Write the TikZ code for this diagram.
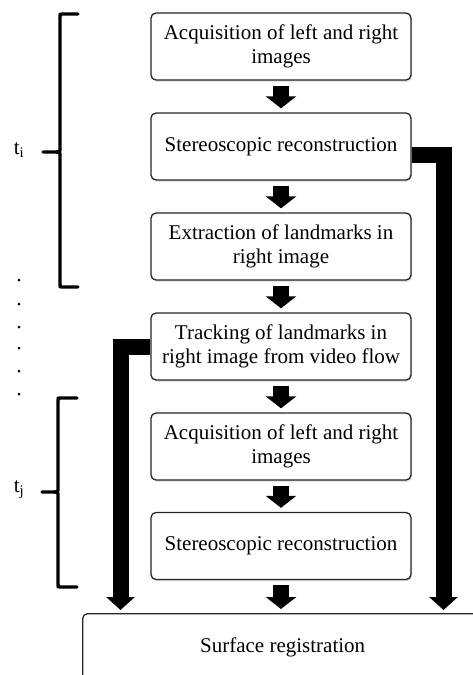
\documentclass[tikz,border=0pt]{standalone}
\usepackage{fontspec}
\setmainfont{Liberation Serif}
\usetikzlibrary{arrows.meta,calc,shadows}
\begin{document}
\begin{tikzpicture}[x=1pt,y=-1pt,
  box/.style={draw=black!85, line width=1.3pt, rounded corners=5pt, fill=white,
    minimum width=260pt, minimum height=67pt, align=center,
    inner sep=0pt, font=\fontsize{21}{24}\selectfont,
    drop shadow={shadow xshift=1pt, shadow yshift=-1.5pt, opacity=0.3}},
  flow/.style={line width=16pt, line cap=butt, -{Triangle[width=30pt,length=12pt]},
    shorten <=5pt, shorten >=4pt},
  side/.style={line width=16pt, line cap=butt, line join=miter,
    -{Triangle[width=28pt,length=13pt]}, shorten >=3pt},
  brace/.style={line width=3.4pt, line cap=round},
  lbl/.style={font=\fontsize{21}{24}\selectfont, inner sep=0pt},
  dot/.style={circle, fill=black, inner sep=0pt, minimum size=3pt}
]
\useasboundingbox (0,0) rectangle (473,675);

\node[box] (b1) at (281,46.5) {Acquisition of left and right\\images};
\node[box] (b2) at (281,146.5) {Stereoscopic reconstruction};
\node[box] (b3) at (281,246.5) {Extraction of landmarks in\\right image};
\node[box] (b4) at (281,346.5) {Tracking of landmarks in\\right image from video flow};
\node[box] (b5) at (281,446.5) {Acquisition of left and right\\images};
\node[box] (b6) at (281,546) {Stereoscopic reconstruction};

\node[draw=black!85, line width=1.3pt, rounded corners=5pt, fill=white,
  minimum width=400pt, minimum height=68pt, anchor=north west, inner sep=0pt,
  font=\fontsize{21}{24}\selectfont] (sr) at (82,613) {Surface registration};

\draw[flow] (b1) -- (b2);
\draw[flow] (b2) -- (b3);
\draw[flow] (b3) -- (b4);
\draw[flow] (b4) -- (b5);
\draw[flow] (b5) -- (b6);
\draw[flow] (b6.south) -- (b6.south |- sr.north);

\coordinate (rx) at (443.5,0);
\coordinate (lx) at (120.5,0);
\draw[side] ($(b2.east)+(0,8)$) -| (rx |- sr.north);
\draw[side] (b4.west) -| (lx |- sr.north);

% braces
\draw[brace] (78,14) -- (62,14) .. controls (60,14) .. (60,17) -- (60,148)
  .. controls (60,152) .. (56,152) -- (43,152);
\draw[brace] (56,152) .. controls (60,152) .. (60,156) -- (60,284)
  .. controls (60,287) .. (62,287) -- (78,287);
\draw[brace] (77,398) -- (60,398) .. controls (58,398) .. (58,401) -- (58,488)
  .. controls (58,492) .. (54,492) -- (42,492);
\draw[brace] (54,492) .. controls (58,492) .. (58,496) -- (58,584)
  .. controls (58,587) .. (60,587) -- (77,587);

\node[lbl] (ti) at (19,150) {t\textsubscript{i}};
\node[lbl] (tj) at (19,490) {t\textsubscript{j}};

\foreach \yy [count=\k] in {280,304,327,348,371,394}
  \node[dot] (d\k) at (19,\yy) {};
\end{tikzpicture}
\end{document}
